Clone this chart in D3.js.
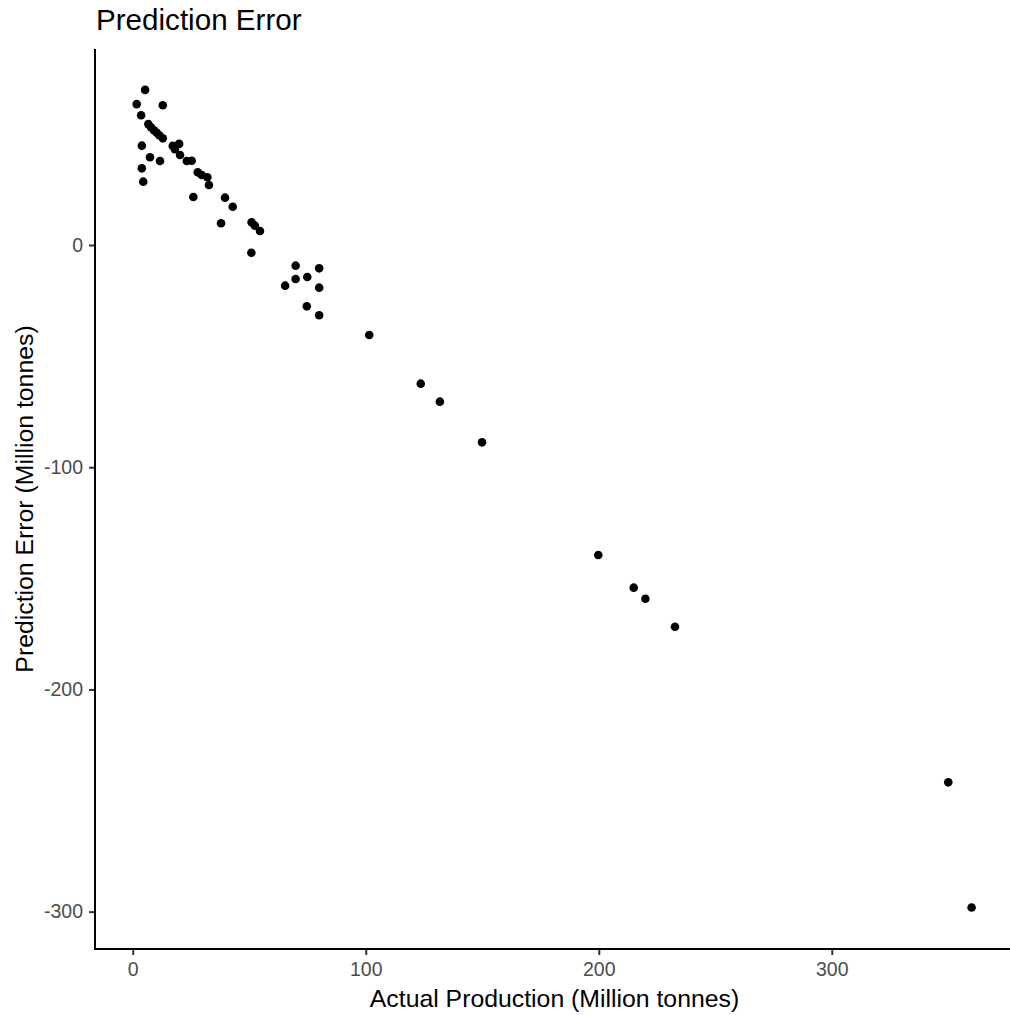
<!DOCTYPE html>
<html>
<head>
<meta charset="utf-8">
<script src="https://cdn.jsdelivr.net/npm/d3@7"></script>
<style>
  body { margin: 0; background: #fff; }
  svg { display: block; font-family: "Liberation Sans", Arial, sans-serif; }
</style>
</head>
<body>
<div id="chart"></div>
<script>
// actual production (million tonnes)
const actual = [5.3, 1.7, 12.9, 3.6, 6.7, 7.8, 9.1, 10.3, 11.4, 12.9,
  3.9, 17.2, 19.9, 18.1, 20.3, 7.4, 11.7, 23.2, 25.3, 3.9,
  27.9, 29.6, 32.0, 32.7, 4.5, 26.0, 39.6, 42.9, 37.9, 51.0,
  52.4, 54.6, 50.9, 69.9, 80.0, 74.9, 69.9, 65.4, 80.0, 74.7,
  80.0, 101.5, 123.6, 131.8, 149.9, 199.8, 215.0, 220.0, 232.7, 350.0, 360.0];
// prediction error (million tonnes)
const predError = [69.8, 63.4, 62.9, 58.4, 54.4, 53.0, 51.6, 50.5, 49.4, 48.0,
  44.7, 44.6, 45.5, 43.1, 40.5, 39.5, 37.8, 37.8, 37.9, 34.5,
  32.7, 31.5, 30.5, 27.0, 28.5, 21.6, 21.3, 17.2, 9.8, 10.2,
  8.7, 6.3, -3.5, -9.3, -10.5, -14.4, -15.3, -18.3, -19.2, -27.6,
  -31.6, -40.5, -62.4, -70.5, -88.8, -139.5, -154.2, -159.2, -171.8, -241.8, -298.1];
const xTicks = [0, 100, 200, 300];
const yTicks = [0, -100, -200, -300];

const W = 1010, H = 1015;
const panel = {l: 95, r: 1014, t: 49, b: 949};

const svg = d3.select("#chart").append("svg")
  .attr("width", W).attr("height", H);

const x = d3.scaleLinear().domain([-16.2, 378.2]).range([panel.l, panel.r]);
const y = d3.scaleLinear().domain([-316.8, 88.2]).range([panel.b, panel.t]);

// points
svg.append("g").selectAll("circle")
  .data(actual.map((a, i) => [a, predError[i]]))
  .enter().append("circle")
  .attr("cx", d => x(d[0]))
  .attr("cy", d => y(d[1]))
  .attr("r", 4.3)
  .attr("fill", "#000");

// x axis
const xAxis = svg.append("g")
  .attr("transform", "translate(0," + panel.b + ")")
  .call(d3.axisBottom(x).tickValues(xTicks).tickFormat(d => String(d))
    .tickSize(6).tickSizeOuter(0).tickPadding(7));
xAxis.select(".domain").remove();
xAxis.append("line").attr("x1", panel.l - 1).attr("x2", W)
  .attr("stroke", "#000").attr("stroke-width", 2);

// y axis
const yAxis = svg.append("g")
  .attr("transform", "translate(" + panel.l + ",0)")
  .call(d3.axisLeft(y).tickValues(yTicks).tickFormat(d => String(d))
    .tickSize(6).tickSizeOuter(0).tickPadding(6));
yAxis.select(".domain").remove();
yAxis.append("line").attr("y1", panel.t).attr("y2", panel.b + 1)
  .attr("stroke", "#000").attr("stroke-width", 2);

svg.selectAll(".tick line").attr("stroke", "#333").attr("stroke-width", 2);
svg.selectAll(".tick text").attr("fill", "#4d4d4d")
  .style("font-size", "19.5px").style("font-family", "Liberation Sans, Arial, sans-serif");

// axis titles
svg.append("text")
  .attr("x", (panel.l + panel.r) / 2).attr("y", 1007)
  .attr("text-anchor", "middle").attr("fill", "#000")
  .style("font-size", "24.8px")
  .text("Actual Production (Million tonnes)");

svg.append("text")
  .attr("transform", "translate(33," + (panel.t + panel.b) / 2 + ") rotate(-90)")
  .attr("text-anchor", "middle").attr("fill", "#000")
  .style("font-size", "24.8px")
  .text("Prediction Error (Million tonnes)");

// title
svg.append("text")
  .attr("x", 96).attr("y", 30)
  .attr("fill", "#000")
  .style("font-size", "29.6px")
  .text("Prediction Error");
</script>
</body>
</html>
